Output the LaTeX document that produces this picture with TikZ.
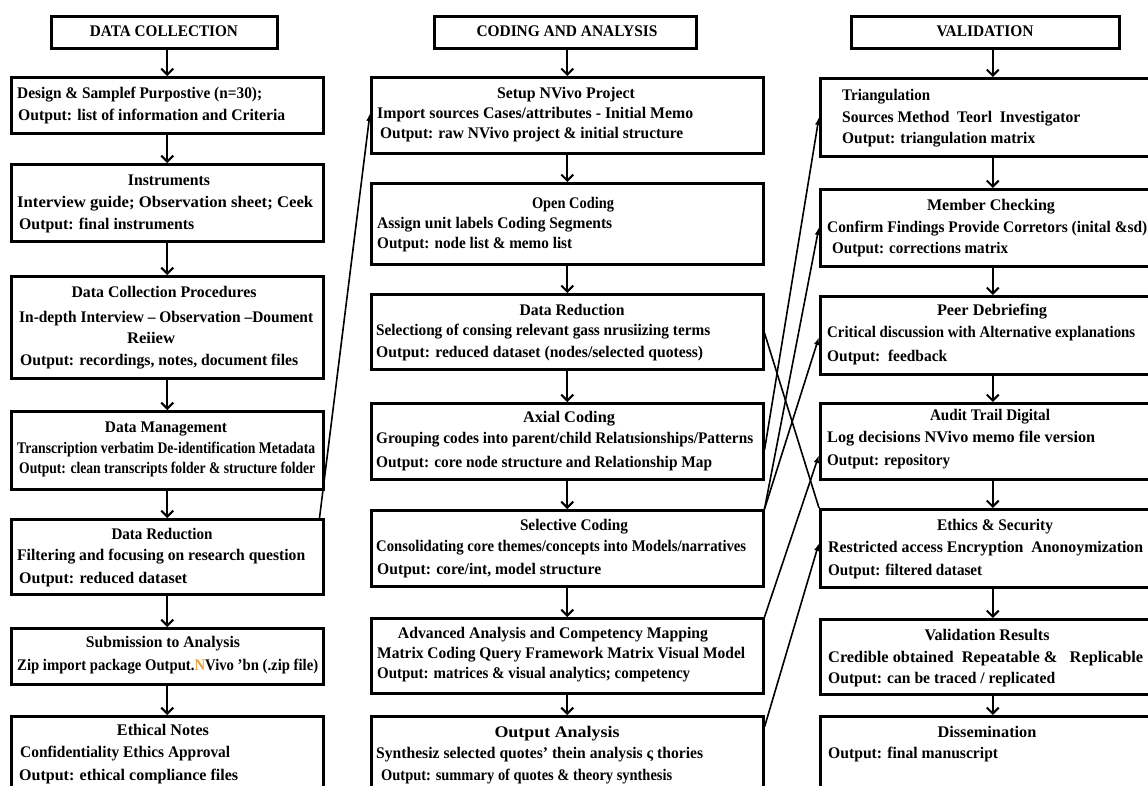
\documentclass[tikz,border=0pt]{standalone}
\usepackage{fontspec}
\setmainfont{Liberation Serif}
\usepackage{graphicx}
\usetikzlibrary{calc,arrows.meta}
\definecolor{nvorange}{HTML}{E9A23B}
\tikzset{
  bx/.style={draw=black,line width=2.5pt,inner sep=0pt,fill=none},
  txt/.style={inner sep=0pt,font=\fontsize{16.2}{19}\selectfont\bfseries},
  varrow/.style={line width=2pt,-{Straight Barb[length=6pt,width=12pt,line width=2pt]}},
  darrow/.style={line width=1.6pt,-{Latex[length=8pt,width=5.5pt]}},
  dline/.style={line width=1.6pt}
}
\newcommand\bxat[5]{\node[bx,minimum width=#4pt,minimum height=#5pt,anchor=north west] (#1) at (#2,#3) {};}
\newcommand\txL[5]{\node[txt,anchor=base west] (#1) at (#2,#3+5) {\resizebox{#4pt}{\height}{#5}};}
\newcommand\txC[5]{\node[txt,anchor=base] (#1) at (#2,#3+5) {\resizebox{#4pt}{\height}{#5}};}
\begin{document}
\begin{tikzpicture}[x=1pt,y=-1pt]
\fill[white] (0,0) rectangle (1148,785);
\useasboundingbox (0,0) rectangle (1148,785);
% ---------- headers
\bxat{L0}{50}{15}{226}{32}
\bxat{M0}{433}{15}{262}{32}
\bxat{R0}{850}{15}{268}{32}
\txC{h1}{164}{31}{148}{DATA COLLECTION}
\txC{h2}{567}{31}{181}{CODING AND ANALYSIS}
\txC{h3}{985}{31}{97}{VALIDATION}
% ---------- left boxes
\bxat{L1}{10}{76}{312}{56}
\bxat{L2}{10}{163}{312}{77}
\bxat{L3}{10}{275}{312}{102}
\bxat{L4}{10}{410}{312}{78}
\bxat{L5}{10}{518}{312}{75}
\bxat{L6}{10}{627}{312}{56}
\bxat{L7}{10}{715}{312}{85}
% ---------- middle boxes
\bxat{M1}{370}{76}{392}{76}
\bxat{M2}{370}{182}{392}{81}
\bxat{M3}{370}{293}{392}{75}
\bxat{M4}{370}{402}{392}{76}
\bxat{M5}{370}{509}{392}{76}
\bxat{M6}{370}{617}{392}{75}
\bxat{M7}{370}{715}{392}{85}
% ---------- right boxes
\bxat{R1}{819}{77}{345}{78}
\bxat{R2}{819}{188}{345}{77}
\bxat{R3}{819}{295}{345}{78}
\bxat{R4}{819}{402}{345}{76}
\bxat{R5}{819}{508}{345}{78}
\bxat{R6}{819}{618}{345}{75}
\bxat{R7}{819}{715}{345}{85}
% ---------- left texts
\txL{l1a}{17}{93}{245}{Design \& Samplef Purpostive (n=30);}
\txL{l1b}{18}{115}{267}{Output: list of information and Criteria}
\txC{l2t}{169}{180}{82}{Instruments}
\txL{l2a}{17}{202}{296}{Interview guide; Observation sheet; Ceek}
\txL{l2b}{19}{224}{175}{Output: final instruments}
\txC{l3t}{164}{292}{185}{Data Collection Procedures}
\txL{l3a}{19}{317}{294}{In-depth Interview – Observation –Doument}
\txC{l3b}{151}{338}{48}{Reiiew}
\txL{l3c}{20}{360}{278}{Output: recordings, notes, document files}
\txC{l4t}{166}{427}{122}{Data Management}
\txL{l4a}{17}{448}{298}{Transcription verbatim De-identification Metadata}
\txL{l4b}{19}{468}{296}{Output: clean transcripts folder \& structure folder}
\txC{l5t}{162}{534}{101}{Data Reduction}
\txL{l5a}{17}{555}{288}{Filtering and focusing on research question}
\txL{l5b}{19}{578}{168}{Output: reduced dataset}
\txC{l6t}{163}{642}{154}{Submission to Analysis}
\txL{l6a}{17}{665}{301}{Zip import package Output.\textcolor{nvorange}{N}Vivo ’bn (.zip file)}
\txC{l7t}{163}{730}{92}{Ethical Notes}
\txL{l7a}{20}{752}{210}{Confidentiality Ethics Approval}
\txL{l7b}{19}{775}{219}{Output: ethical compliance files}
% ---------- middle texts
\txC{m1t}{566}{93}{138}{Setup NVivo Project}
\txL{m1a}{377}{113}{316}{Import sources Cases/attributes - Initial Memo}
\txL{m1b}{380}{133}{303}{Output: raw NVivo project \& initial structure}
\txC{m2t}{573}{203}{82}{Open Coding}
\txL{m2a}{377}{223}{235}{Assign unit labels Coding Segments}
\txL{m2b}{377}{243}{195}{Output: node list \& memo list}
\txC{m3t}{572}{310}{105}{Data Reduction}
\txL{m3a}{376}{330}{334}{Selectiong of consing relevant gass nrusiizing terms}
\txL{m3b}{376}{352}{327}{Output: reduced dataset (nodes/selected quotess)}
\txC{m4t}{569}{417}{92}{Axial Coding}
\txL{m4a}{376}{438}{377}{Grouping codes into parent/child Relatısionships/Patterns}
\txL{m4b}{376}{462}{336}{Output: core node structure and Relationship Map}
\txC{m5t}{574}{525}{108}{Selective Coding}
\txL{m5a}{376}{546}{370}{Consolidating core themes/concepts into Models/narratives}
\txL{m5b}{377}{569}{224}{Output: core/int, model structure}
\txC{m6t}{553}{633}{310}{Advanced Analysis and Competency Mapping}
\txL{m6a}{377}{653}{368}{Matrix Coding Query Framework Matrix Visual Model}
\txL{m6b}{377}{673}{313}{Output: matrices \& visual analytics; competency}
\txC{m7t}{557}{732}{125}{Output Analysis}
\txL{m7a}{376}{753}{327}{Synthesiz selected quotes’ thein analysis ς thories}
\txL{m7b}{381}{775}{291}{Output: summary of quotes \& theory synthesis}
% ---------- right texts
\txL{r1t}{842}{95}{88}{Triangulation}
\txL{r1a}{842}{117}{238}{Sources Method\ \ Teorl\ \ Investigator}
\txL{r1b}{842}{138}{193}{Output: triangulation matrix}
\txC{r2t}{991}{205}{128}{Member Checking}
\txL{r2a}{827}{227}{320}{Confirm Findings Provide Corretors (inital \&sd)}
\txL{r2b}{832}{248}{176}{Output: corrections matrix}
\txC{r3t}{992}{310}{110}{Peer Debriefing}
\txL{r3a}{827}{332}{308}{Critical discussion with Alternative explanations}
\txL{r3b}{827}{356}{120}{Output:\ \ feedback}
\txC{r4t}{990}{415}{120}{Audit Trail Digital}
\txL{r4a}{827}{437}{268}{Log decisions NVivo memo file version}
\txL{r4b}{827}{460}{123}{Output: repository}
\txC{r5t}{995}{525}{116}{Ethics \& Security}
\txL{r5a}{828}{547}{315}{Restricted access Encryption\ \ Anonoymization}
\txL{r5b}{828}{570}{154}{Output: filtered dataset}
\txC{r6t}{987}{635}{125}{Validation Results}
\txL{r6a}{828}{657}{315}{Credible obtained\ \ Repeatable \&\ \ \ Replicable}
\txL{r6b}{828}{678}{227}{Output: can be traced / replicated}
\txC{r7t}{987}{732}{99}{Dissemination}
\txL{r7a}{828}{753}{170}{Output: final manuscript}
% ---------- vertical arrows
\foreach \c in {L,M,R}{
  \draw[varrow] (\c1.north |- \c0.south) -- (\c1.north);
}
\foreach \c in {L,M,R}{
  \foreach \i [evaluate=\i as \j using int(\i+1)] in {1,...,6}{
    \draw[varrow] (\c\i.south) -- (\c\j.north);
  }
}
% ---------- cross connectors
\draw[darrow] ($(L5.north east)+(-5,0)$) -- ($(M1.north west)+(0,37)$);
\draw[darrow] ($(M4.north east)+(0,48)$) -- ($(R1.north west)+(0,40)$);
\draw[darrow] (M5.north east) -- ($(R2.north west)+(0,39)$);
\draw[darrow] (M5.north east) -- ($(R3.north west)+(0,42)$);
\draw[dline] ($(M3.north east)+(0,40)$) -- (R5.north west);
\draw[darrow] (M6.north east) -- ($(R4.north west)+(0,53)$);
\draw[darrow] ($(M7.north east)+(0,12)$) -- ($(R5.north west)+(0,35)$);
\end{tikzpicture}
\end{document}
